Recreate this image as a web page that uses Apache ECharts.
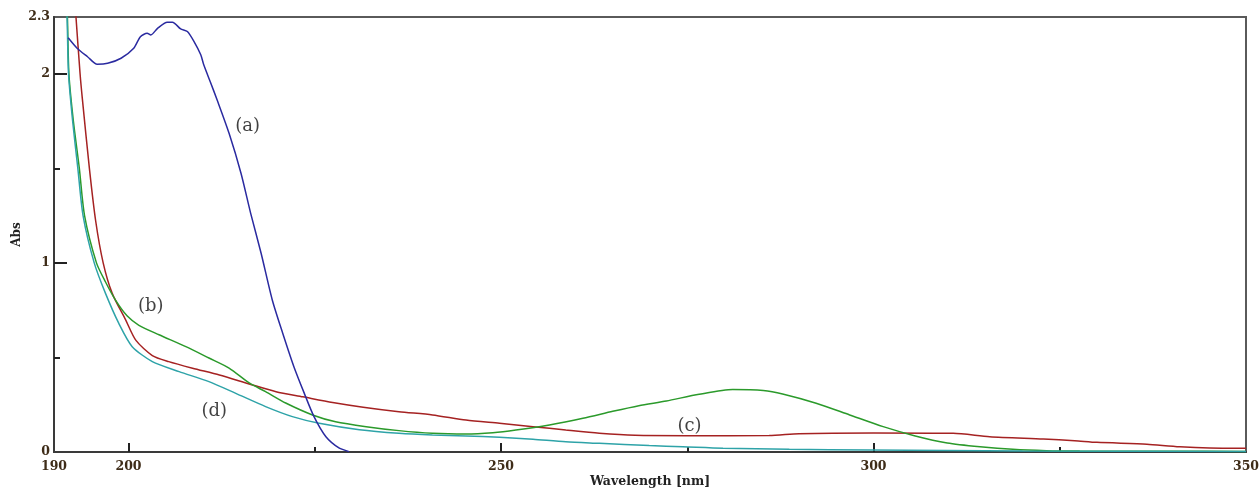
<!DOCTYPE html>
<html>
<head>
<meta charset="utf-8">
<script src="https://cdn.jsdelivr.net/npm/echarts@6/dist/echarts.min.js"></script>
<style>
html,body{margin:0;padding:0;background:#fff;}
#chart{width:1260px;height:489px;}
</style>
</head>
<body>
<div id="chart"></div>
<script>
// Tick labels
const xLabelValues = [190, 200, 250, 300, 350];
const xMajorTicks = [200, 250, 300];
const xMinorTicks = [225, 275, 325];
const yLabelValues = [0, 1, 2, 2.3];
const yMajorTicks = [1, 2];
const yMinorTicks = [0.5, 1.5];

// Curve (a) - blue
const wlA = [191.9,193.1,194.5,195.8,197.2,199.0,200.7,201.6,202.5,203.0,203.9,205.2,205.9,207.0,207.9,208.8,209.7,210.1,211.0,211.9,213.5,215.1,216.4,217.8,219.3,220.7,222.2,223.6,224.9,226.5,228.3,229.6];
const absA = [2.19,2.135,2.09,2.05,2.055,2.082,2.135,2.196,2.214,2.205,2.24,2.272,2.272,2.237,2.223,2.17,2.10,2.047,1.955,1.861,1.685,1.474,1.262,1.051,0.804,0.628,0.451,0.31,0.187,0.081,0.02,0.002];

// Curve (b) - green
const wlB = [191.6,191.8,192.0,192.6,193.4,194.1,195.7,196.9,198.3,199.8,201.4,204.1,207.7,210.8,213.5,216.2,218.4,221.1,224.7,227.8,231.9,236.3,240.8,245.3,248.9,252.0,256.5,261.0,265.0,268.5,272.2,276.6,281.1,285.2,287.8,292.3,296.8,301.3,305.6,309.9,314.3,318.7,323.2,327.7,340,350];
const absB = [2.45,2.3,2.0,1.75,1.5,1.25,1.0,0.9,0.80,0.72,0.67,0.62,0.557,0.497,0.444,0.365,0.319,0.259,0.196,0.16,0.134,0.113,0.099,0.095,0.102,0.116,0.143,0.178,0.215,0.245,0.27,0.305,0.33,0.325,0.307,0.258,0.196,0.134,0.085,0.048,0.028,0.014,0.007,0.005,0.004,0.003];

// Curve (c) - red
const wlC = [192.6,192.95,193.5,193.8,194.75,195.6,196.6,197.8,199.6,201.0,203.2,205.4,208.6,212.2,216.2,219.8,223.4,227.4,231.5,236.3,240.8,245.3,249.8,254.3,258.7,263.2,268.0,275.0,286.0,290.0,300.0,310.7,315.6,322.8,327.0,330.0,336.7,341.1,348.3,350];
const absC = [2.5,2.3,2.0,1.87,1.5,1.22,1.0,0.84,0.70,0.59,0.51,0.478,0.443,0.407,0.36,0.319,0.292,0.262,0.237,0.213,0.196,0.169,0.152,0.134,0.116,0.099,0.088,0.086,0.087,0.097,0.101,0.099,0.081,0.069,0.06,0.051,0.041,0.028,0.02,0.02];

// Curve (d) - teal
const wlD = [191.5,191.75,191.95,192.5,193.2,193.9,195.4,196.9,198.7,200.5,203.2,206.8,210.8,214.4,218.4,222.0,225.6,231.0,236.3,240.8,245.3,249.8,254.3,258.7,263.2,269.9,274.4,279.8,288.7,299.5,310,320,350];
const absD = [2.45,2.3,2.0,1.75,1.5,1.25,1.0,0.84,0.68,0.557,0.478,0.425,0.372,0.31,0.24,0.187,0.152,0.118,0.099,0.09,0.085,0.078,0.067,0.054,0.046,0.034,0.028,0.02,0.014,0.011,0.008,0.005,0.003];

// Curve annotations
const labelNames = ['(a)', '(b)', '(c)', '(d)'];
const labelX = [216.0, 203.0, 275.3, 211.5];
const labelY = [1.72, 0.768, 0.134, 0.213];

const pairs = (xs, ys) => xs.map((x, i) => [x, ys[i]]);

const labelFont = {fontFamily: 'DejaVu Serif', fontWeight: 'bold', fontSize: 12.5, color: '#3e2c18'};

const chart = echarts.init(document.getElementById('chart'), null, {renderer: 'canvas'});
const lineBase = {type: 'line', showSymbol: false, symbol: 'none', smooth: 0.25, clip: true, z: 3};

chart.setOption({
  animation: false,
  backgroundColor: '#ffffff',
  grid: {left: 54, right: 14, top: 17, bottom: 37, containLabel: false, outerBoundsMode: 'none', show: true, borderColor: '#5a5a5a', borderWidth: 2, backgroundColor: 'transparent'},
  xAxis: [
    {
      type: 'value', min: 190, max: 350, position: 'bottom',
      name: 'Wavelength [nm]', nameLocation: 'middle', nameGap: 23, nameMoveOverlap: false,
      nameTextStyle: {fontFamily: 'DejaVu Serif', fontWeight: 'bold', fontSize: 12.5, color: '#222'},
      axisLine: {show: true, onZero: false, lineStyle: {color: '#3a3a3a', width: 2}},
      axisTick: {show: true, inside: true, length: 9, customValues: xMajorTicks, lineStyle: {color: '#222', width: 2}},
      axisLabel: Object.assign({show: true, margin: 8, customValues: xLabelValues}, labelFont),
      splitLine: {show: false}
    },
    {
      type: 'value', min: 190, max: 350, position: 'bottom',
      axisLine: {show: false},
      axisTick: {show: true, inside: true, length: 5, customValues: xMinorTicks, lineStyle: {color: '#222', width: 2}},
      axisLabel: {show: false},
      splitLine: {show: false}
    }
  ],
  yAxis: [
    {
      type: 'value', min: 0, max: 2.3, position: 'left',
      name: 'Abs', nameLocation: 'middle', nameGap: 31, nameRotate: 90, nameMoveOverlap: false,
      nameTextStyle: {fontFamily: 'DejaVu Serif', fontWeight: 'bold', fontSize: 12, color: '#222'},
      axisLine: {show: true, onZero: false, lineStyle: {color: '#3a3a3a', width: 2}},
      axisTick: {show: true, inside: true, length: 13, customValues: yMajorTicks, lineStyle: {color: '#222', width: 2}},
      axisLabel: Object.assign({show: true, margin: 4, customValues: yLabelValues, formatter: v => String(v)}, labelFont),
      splitLine: {show: false}
    },
    {
      type: 'value', min: 0, max: 2.3, position: 'left',
      axisLine: {show: false},
      axisTick: {show: true, inside: true, length: 6, customValues: yMinorTicks, lineStyle: {color: '#222', width: 2}},
      axisLabel: {show: false},
      splitLine: {show: false}
    }
  ],
  series: [
    Object.assign({}, lineBase, {name: '(c)', data: pairs(wlC, absC), lineStyle: {color: '#a52222', width: 1.5}}),
    Object.assign({}, lineBase, {name: '(b)', data: pairs(wlB, absB), lineStyle: {color: '#2b9a2b', width: 1.5}}),
    Object.assign({}, lineBase, {name: '(d)', data: pairs(wlD, absD), lineStyle: {color: '#2ea3a8', width: 1.5}}),
    Object.assign({}, lineBase, {name: '(a)', data: pairs(wlA, absA), lineStyle: {color: '#2a2aa0', width: 1.5}}),
    {
      type: 'scatter', symbolSize: 0, z: 5,
      data: labelNames.map((n, i) => ({value: [labelX[i], labelY[i]], name: n})),
      label: {show: true, position: 'inside', formatter: p => p.name, fontFamily: 'DejaVu Serif', fontSize: 18, color: '#111'}
    }
  ]
});
</script>
</body>
</html>
